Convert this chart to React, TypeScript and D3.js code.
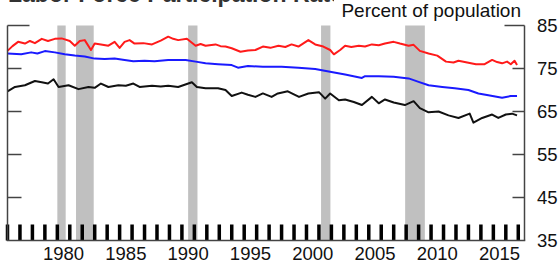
import * as d3 from "d3";

// values: [year, percent]
const menRate: [number, number][] = [
  [1976.0, 79.1], [1976.4, 80.2], [1976.85, 81.2], [1977.4, 80.8], [1977.8, 81.4],
  [1978.2, 80.9], [1978.75, 81.9], [1979.25, 81.4], [1979.8, 81.9], [1980.35, 82.0],
  [1981.0, 81.4], [1981.4, 80.3], [1981.8, 81.4], [1982.2, 81.6], [1982.7, 79.3],
  [1983.0, 80.8], [1983.5, 80.6], [1984.1, 80.3], [1984.6, 81.2], [1985.0, 79.8],
  [1985.4, 81.2], [1985.8, 81.6], [1986.2, 80.8], [1986.9, 80.9], [1987.6, 80.6],
  [1988.3, 81.5], [1988.9, 82.4], [1989.3, 81.9], [1989.7, 81.6], [1990.4, 81.9],
  [1991.1, 80.3], [1991.5, 80.7], [1991.9, 80.3], [1992.7, 80.6], [1993.1, 80.2],
  [1993.5, 80.1], [1994.0, 79.7], [1994.7, 78.9], [1995.3, 79.2], [1995.9, 79.3],
  [1996.5, 80.1], [1997.1, 79.8], [1997.75, 80.3], [1998.3, 80.0], [1998.8, 80.6],
  [1999.35, 80.1], [2000.15, 81.6], [2000.7, 80.6], [2001.35, 80.1], [2001.9, 79.3],
  [2002.2, 78.3], [2002.7, 79.3], [2003.1, 80.3], [2003.6, 80.0], [2004.2, 80.3],
  [2004.7, 80.1], [2005.25, 80.6], [2005.8, 80.4], [2006.3, 80.8], [2007.0, 81.2],
  [2007.5, 80.8], [2008.2, 80.3], [2008.6, 80.5], [2009.1, 79.1], [2009.8, 78.5],
  [2010.5, 78.0], [2011.2, 76.6], [2011.8, 76.4], [2012.2, 76.8], [2012.9, 76.4],
  [2013.6, 76.0], [2014.3, 76.0], [2014.9, 77.0], [2015.3, 76.5], [2015.7, 76.2],
  [2016.1, 76.6], [2016.4, 76.0], [2016.7, 76.8], [2016.9, 75.8],
];

const blueRate: [number, number][] = [
  [1976.0, 78.5], [1977.1, 78.3], [1977.9, 78.75], [1978.4, 78.5], [1979.0, 79.05],
  [1979.8, 78.75], [1980.6, 78.3], [1981.4, 78.0], [1982.2, 77.8], [1983.0, 77.3],
  [1983.8, 77.2], [1984.6, 77.3], [1985.4, 77.0], [1986.1, 76.7], [1987.0, 76.8],
  [1987.8, 76.7], [1988.9, 77.0], [1990.3, 77.0], [1991.1, 76.6], [1991.9, 76.2],
  [1992.9, 76.0], [1994.0, 75.8], [1994.5, 75.2], [1995.3, 75.6], [1996.5, 75.4],
  [1998.0, 75.4], [1999.35, 75.2], [2000.7, 74.9], [2002.0, 74.2], [2003.1, 73.6],
  [2004.45, 72.8], [2004.7, 73.2], [2005.8, 73.2], [2007.0, 73.1], [2008.2, 72.7],
  [2009.0, 71.9], [2009.8, 71.1], [2010.9, 70.7], [2011.9, 70.4], [2013.0, 70.0],
  [2013.8, 69.2], [2014.6, 68.8], [2015.7, 68.2], [2016.4, 68.6], [2016.9, 68.6],
];

const blackRate: [number, number][] = [
  [1976.0, 69.7], [1976.6, 70.7], [1977.4, 71.1], [1978.2, 72.1], [1978.75, 71.8],
  [1979.25, 71.5], [1979.7, 72.5], [1980.1, 70.7], [1980.9, 71.1], [1981.7, 70.2],
  [1982.5, 70.7], [1983.0, 70.5], [1983.5, 71.5], [1984.1, 70.7], [1984.9, 71.1],
  [1985.5, 71.0], [1986.1, 71.5], [1986.6, 70.7], [1987.6, 71.0], [1988.3, 70.8],
  [1988.9, 71.0], [1989.7, 70.7], [1990.8, 71.8], [1991.2, 70.7], [1991.9, 70.4],
  [1992.9, 70.4], [1993.5, 70.0], [1994.0, 68.6], [1994.8, 69.4], [1995.3, 68.9],
  [1995.9, 68.4], [1996.5, 69.2], [1997.2, 68.4], [1997.7, 69.2], [1998.5, 69.7],
  [1999.4, 68.4], [2000.15, 69.2], [2001.0, 69.5], [2001.5, 68.0], [2001.9, 69.2],
  [2002.6, 67.6], [2003.1, 67.8], [2003.8, 67.2], [2004.45, 66.5], [2005.25, 68.4],
  [2005.8, 66.9], [2006.3, 67.8], [2007.0, 67.1], [2007.9, 66.5], [2008.6, 67.4],
  [2009.1, 65.8], [2009.8, 64.8], [2010.6, 65.0], [2011.4, 64.1], [2012.2, 63.5],
  [2013.1, 64.5], [2013.4, 62.4], [2014.1, 63.5], [2014.9, 64.3], [2015.4, 63.5],
  [2016.0, 64.3], [2016.5, 64.5], [2016.9, 64.1],
];

// recessions, start / end as decimal years
const recessions: [number, number][] = [
  [1980.0, 1980.67],
  [1981.5, 1982.92],
  [1990.5, 1991.25],
  [2001.17, 2001.92],
  [2007.92, 2009.5],
];

const yTicks = [35, 45, 55, 65, 75, 85];
const yearLabels = [1980, 1985, 1990, 1995, 2000, 2005, 2010, 2015];
const years = d3.range(1976, 2018);

const font = "'Liberation Sans', Arial, Helvetica, sans-serif";
const axisColor = "#444";

export default function App() {
  const x = d3.scaleLinear().domain([1976, 2017.5]).range([7.5, 524.5]);
  const y = d3.scaleLinear().domain([35, 85]).range([240.5, 25.5]);
  const left = x.range()[0];
  const right = x.range()[1];
  const top = y(85);
  const bottom = y(35);

  const line = d3
    .line<[number, number]>()
    .x((d) => x(d[0]))
    .y((d) => y(d[1]));

  const series = [
    { data: menRate, color: "#ff1a1a" },
    { data: blueRate, color: "#1a1aff" },
    { data: blackRate, color: "#111" },
  ];

  return (
    <svg
      width={560}
      height={267}
      style={{ position: "absolute", left: 0, top: 0, background: "white" }}
    >
      <text x={8} y={1.5} fontFamily={font} fontWeight="bold" fontSize={23} fill="#333">
        Labor Force Participation Rate
      </text>
      <rect x={334} y={0} width={226} height={22} fill="white" />
      <text x={521} y={16.5} fontFamily={font} fontSize={19} textAnchor="end" fill="#111">
        Percent of population
      </text>

      {recessions.map(([a, b], i) => (
        <rect key={i} x={x(a)} y={top} width={x(b) - x(a)} height={bottom - top} fill="#c0c0c0" />
      ))}

      {series.map((s, i) => (
        <path key={i} d={line(s.data) ?? ""} fill="none" stroke={s.color} strokeWidth={2} strokeLinejoin="round" />
      ))}

      {years.map((yr) => (
        <rect key={yr} x={x(yr) - 1.75} y={bottom - 16} width={3.5} height={16} fill="#000" />
      ))}

      {/* frame */}
      <line x1={left} x2={left} y1={top} y2={bottom} stroke={axisColor} strokeWidth={1.5} />
      <line x1={right} x2={right} y1={top} y2={bottom} stroke={axisColor} strokeWidth={1.5} />
      <line x1={left - 0.75} x2={right + 0.75} y1={bottom} y2={bottom} stroke={axisColor} strokeWidth={1.5} />
      <line x1={left} x2={left + 22} y1={top} y2={top} stroke={axisColor} strokeWidth={1.5} />
      <line x1={right - 20} x2={right} y1={top} y2={top} stroke={axisColor} strokeWidth={1.5} />

      {yTicks
        .filter((t) => t > 35 && t < 85)
        .map((t) => (
          <g key={t}>
            <line x1={left} x2={left + 14} y1={y(t)} y2={y(t)} stroke={axisColor} strokeWidth={1.5} />
            <line x1={right - 12} x2={right} y1={y(t)} y2={y(t)} stroke={axisColor} strokeWidth={1.5} />
          </g>
        ))}

      {yTicks.map((t) => (
        <text key={t} x={537} y={y(t) + 6.5} fontFamily={font} fontSize={18.5} fill="#111">
          {t}
        </text>
      ))}

      {yearLabels.map((yr) => (
        <text key={yr} x={x(yr + 0.5)} y={260} fontFamily={font} fontSize={18.5} textAnchor="middle" fill="#111">
          {yr}
        </text>
      ))}
    </svg>
  );
}
